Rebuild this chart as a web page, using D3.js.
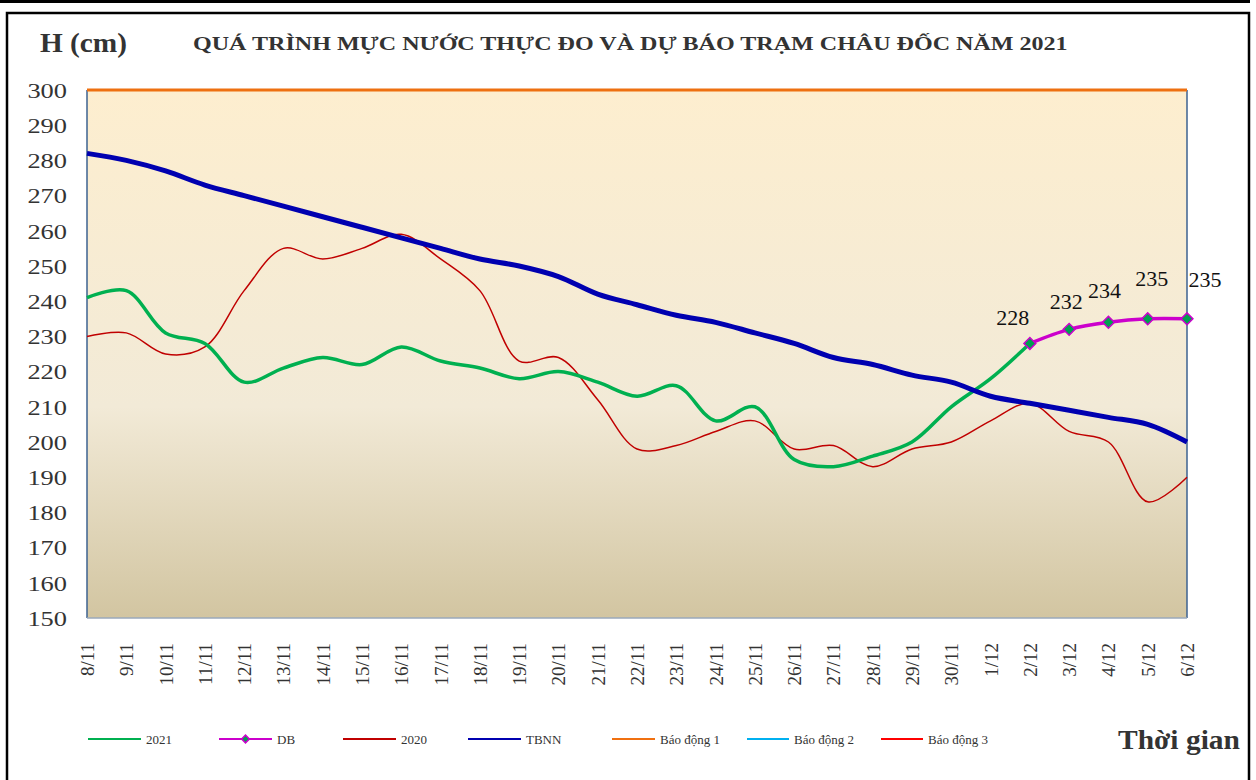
<!DOCTYPE html>
<html>
<head>
<meta charset="utf-8">
<script src="https://cdn.jsdelivr.net/npm/d3@7"></script>
<style>
  body { margin: 0; background: #fff; }
  svg { display: block; }
</style>
</head>
<body>
<svg width="1256" height="780"></svg>
<script>
// dates 8/11 -> 6/12
var days = ["8/11","9/11","10/11","11/11","12/11","13/11","14/11","15/11","16/11","17/11",
  "18/11","19/11","20/11","21/11","22/11","23/11","24/11","25/11","26/11","27/11",
  "28/11","29/11","30/11","1/12","2/12","3/12","4/12","5/12","6/12"];
var yTicks = [150,160,170,180,190,200,210,220,230,240,250,260,270,280,290,300];

var h2021 = [241,243,231,228,217,221,224,222,227,223,221,218,220,217,213,216,206,210,195,193,196,200,210,218,228];
var hDB = [null,null,null,null,null,null,null,null,null,null,null,null,null,null,null,null,null,null,null,null,null,null,null,null,228,232,234,235,235];
var h2020 = [230,231,225,227,243,255,252,255,259,252,243,223,224,212,198,199,203,206,198,199,193,198,200,206,211,203,200,183,190];
var tbnn = [282,280,277,273,270,267,264,261,258,255,252,250,247,242,239,236,234,231,228,224,222,219,217,213,211,209,207,205,200];
var bd1 = 300;

var legendItems = [
  {name: "2021", color: "#00b050", marker: false},
  {name: "DB", color: "#cc00cc", marker: true},
  {name: "2020", color: "#c00000", marker: false},
  {name: "TBNN", color: "#0000b0", marker: false},
  {name: "Báo động 1", color: "#f07010", marker: false},
  {name: "Báo động 2", color: "#00b0f0", marker: false},
  {name: "Báo động 3", color: "#ff0000", marker: false}
];

var svg = d3.select("svg");
var serif = "'Liberation Serif', 'Times New Roman', serif";
var plotL = 87, plotR = 1187, plotT = 90, plotB = 618;

// stretch a text horizontally so it spans the wanted width
function fitText(sel, x0, y0, w) {
  var len = sel.node().getComputedTextLength();
  sel.attr("transform", "translate(" + x0 + "," + y0 + ") scale(" + (w / len) + ",1)");
}

// outer frame
svg.append("rect").attr("x", 0).attr("y", 0).attr("width", 1250).attr("height", 3).attr("fill", "#000");
svg.append("path").attr("d", "M7,790 V13 H1249 V790").attr("fill", "none").attr("stroke", "#000").attr("stroke-width", 2.5);

var x = d3.scalePoint().domain(days).range([plotL, plotR]);
var y = d3.scaleLinear().domain([150, 300]).range([plotB, plotT]);

// plot background gradient
var grad = svg.append("defs").append("linearGradient").attr("id", "bg")
  .attr("x1", 0).attr("y1", 0).attr("x2", 0).attr("y2", 1);
grad.append("stop").attr("offset", "0%").attr("stop-color", "#fdeecf");
grad.append("stop").attr("offset", "60%").attr("stop-color", "#f2ead7");
grad.append("stop").attr("offset", "100%").attr("stop-color", "#d2c5a1");
svg.append("rect").attr("x", plotL).attr("y", plotT).attr("width", plotR - plotL).attr("height", plotB - plotT)
  .attr("fill", "url(#bg)");

// borders
svg.append("line").attr("x1", plotL).attr("x2", plotL).attr("y1", plotT).attr("y2", plotB)
  .attr("stroke", "#3d6291").attr("stroke-width", 1.5);
svg.append("line").attr("x1", plotR).attr("x2", plotR).attr("y1", plotT).attr("y2", plotB)
  .attr("stroke", "#3d6291").attr("stroke-width", 1.5);
svg.append("line").attr("x1", plotL).attr("x2", plotR).attr("y1", plotB).attr("y2", plotB)
  .attr("stroke", "#9aa8bb").attr("stroke-width", 1.5);

// y axis labels (slightly stretched like the source image)
svg.append("g").selectAll("text").data(yTicks).enter().append("text")
  .attr("transform", function(d) { return "translate(67," + y(d) + ") scale(1.2,1)"; })
  .attr("dy", "0.35em")
  .attr("text-anchor", "end").attr("fill", "#333")
  .style("font", "22px " + serif)
  .text(function(d) { return d; });

// x axis labels (rotated)
svg.append("g").selectAll("text").data(days).enter().append("text")
  .attr("transform", function(d) { return "translate(" + (x(d) + 7) + ",643) rotate(-90)"; })
  .attr("text-anchor", "end").attr("fill", "#333")
  .style("font", "19px " + serif)
  .text(function(d) { return d; });

// titles
var hTitle = svg.append("text").attr("fill", "#333")
  .style("font", "bold 27px " + serif).text("H (cm)");
fitText(hTitle, 40, 52, 87);
var mainTitle = svg.append("text").attr("fill", "#333")
  .style("font", "bold 19px " + serif)
  .text("QUÁ TRÌNH MỰC NƯỚC THỰC ĐO VÀ DỰ BÁO TRẠM CHÂU ĐỐC NĂM  2021");
fitText(mainTitle, 193, 50, 875);
var xTitle = svg.append("text").attr("fill", "#333")
  .style("font", "bold 28px " + serif).text("Thời gian");
fitText(xTitle, 1118, 749, 122);

var line = d3.line()
  .defined(function(d) { return d != null; })
  .curve(d3.curveCatmullRom.alpha(0.5))
  .x(function(d, i) { return x(days[i]); })
  .y(function(d) { return y(d); });

// báo động 1
svg.append("line").attr("x1", plotL).attr("x2", plotR).attr("y1", y(bd1)).attr("y2", y(bd1))
  .attr("stroke", "#ee7010").attr("stroke-width", 3);

svg.append("path").datum(h2020).attr("d", line).attr("fill", "none")
  .attr("stroke", "#c00000").attr("stroke-width", 1.5);
svg.append("path").datum(h2021).attr("d", line).attr("fill", "none")
  .attr("stroke", "#00b050").attr("stroke-width", 3.5);
svg.append("path").datum(tbnn).attr("d", line).attr("fill", "none")
  .attr("stroke", "#0000b0").attr("stroke-width", 5);
svg.append("path").datum(hDB).attr("d", line).attr("fill", "none")
  .attr("stroke", "#cc00cc").attr("stroke-width", 3.5);

var dbPts = hDB.map(function(v, i) { return {v: v, i: i}; }).filter(function(d) { return d.v != null; });
var diamond = d3.symbol().type(d3.symbolSquare).size(70);
svg.append("g").selectAll("path").data(dbPts).enter().append("path")
  .attr("d", diamond)
  .attr("transform", function(d) { return "translate(" + x(days[d.i]) + "," + y(d.v) + ") rotate(45)"; })
  .attr("fill", "#00a050").attr("stroke", "#cc00cc").attr("stroke-width", 1.5);
var lblDx = [-17, -3, -4, 4, 18], lblDy = [-18, -20, -24, -33, -32];
svg.append("g").selectAll("text").data(dbPts).enter().append("text")
  .attr("x", function(d, k) { return x(days[d.i]) + lblDx[k]; })
  .attr("y", function(d, k) { return y(d.v) + lblDy[k]; })
  .attr("text-anchor", "middle").attr("fill", "#111")
  .style("font", "22px " + serif)
  .text(function(d) { return d.v; });

// legend
var legX = [88, 219, 343, 468, 612, 747, 881];
var legLen = [53, 53, 53, 53, 43, 42, 42];
var leg = svg.append("g").selectAll("g").data(legendItems).enter().append("g")
  .attr("transform", function(d, i) { return "translate(" + legX[i] + ",739)"; });
leg.append("line").attr("x1", 0).attr("x2", function(d, i) { return legLen[i]; }).attr("y1", 0).attr("y2", 0)
  .attr("stroke", function(d) { return d.color; }).attr("stroke-width", 2);
leg.filter(function(d) { return d.marker; }).append("path")
  .attr("d", d3.symbol().type(d3.symbolSquare).size(30))
  .attr("transform", "translate(26.5,0) rotate(45)")
  .attr("fill", "#00a050").attr("stroke", "#cc00cc").attr("stroke-width", 1.5);
leg.append("text").attr("x", function(d, i) { return legLen[i] + 5; }).attr("y", 0).attr("dy", "0.35em").attr("fill", "#333")
  .style("font", "13px " + serif)
  .text(function(d) { return d.name; });
</script>
</body>
</html>
